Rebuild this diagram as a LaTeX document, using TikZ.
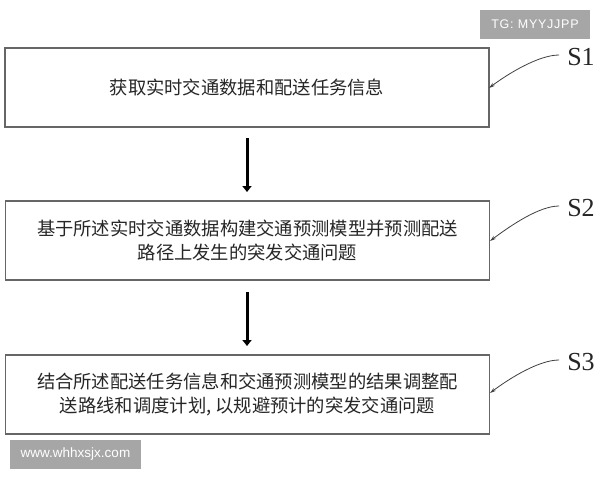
\documentclass[tikz,border=0pt]{standalone}
\usepackage{fontspec}
\setmainfont{Liberation Serif}
\newfontfamily\cjk{Noto Sans CJK SC}
\newfontfamily\wmfont[LetterSpace=6]{Liberation Sans}
\newfontfamily\wmfontb{Liberation Sans}
\usetikzlibrary{arrows.meta}
\begin{document}
\begin{tikzpicture}[x=1pt,y=-1pt,
  stepbox/.style={draw=black!60,line width=1.2pt,minimum width=484pt,minimum height=79pt,inner sep=0pt,
    font=\cjk\fontsize{18.3}{24.5}\selectfont,text=black!85,align=center},
  flowarrow/.style={line width=3pt,-{Triangle[length=6pt,width=9pt]}},
  leader/.style={draw=black!75,line width=0.8pt,-{Stealth[length=6pt,width=3.5pt]}},
  steplabel/.style={font=\fontsize{26}{26}\selectfont,text=black!85,inner sep=0pt},
  wm/.style={fill=black!35,text=white,inner sep=0pt}]
\useasboundingbox (0,0) rectangle (600,480);
\fill[white] (0,0) rectangle (600,480);
\node[stepbox] (b1) at (247,87.5) {获取实时交通数据和配送任务信息};
\node[stepbox] (b2) at (247.5,240.5) {基于所述实时交通数据构建交通预测模型并预测配送\\路径上发生的突发交通问题};
\node[stepbox] (b3) at (247.5,394.5) {结合所述配送任务信息和交通预测模型的结果调整配\\送路线和调度计划, 以规避预计的突发交通问题};
\coordinate (a1s) at (247,138);
\coordinate (a1e) at (247,192);
\coordinate (a2s) at (247,292);
\coordinate (a2e) at (247,346);
\draw[flowarrow] (a1s) -- (a1e);
\draw[flowarrow] (a2s) -- (a2e);
\node[steplabel] (s1) at (581,57) {S1};
\node[steplabel] (s2) at (581,208) {S2};
\node[steplabel] (s3) at (581,362) {S3};
\coordinate (e1) at (489,88);
\coordinate (e2) at (490,241);
\coordinate (e3) at (490,393);
\draw[leader] (s1.west) ++(-8,-2) .. controls +(-20,0) and +(20,-15) .. (e1);
\draw[leader] (s2.west) ++(-8,-2) .. controls +(-20,0) and +(20,-15) .. (e2);
\draw[leader] (s3.west) ++(-8,-2) .. controls +(-20,0) and +(20,-15) .. (e3);
\node[wm,minimum width=110pt,minimum height=29pt,font=\wmfont\fontsize{12.5}{12.5}\selectfont] (w1) at (535,24.5) {TG: MYYJJPP};
\node[wm,minimum width=131pt,minimum height=29pt,font=\wmfontb\fontsize{13.5}{13.5}\selectfont] (w2) at (75.5,454.5) {www.whhxsjx.com};
\end{tikzpicture}
\end{document}
